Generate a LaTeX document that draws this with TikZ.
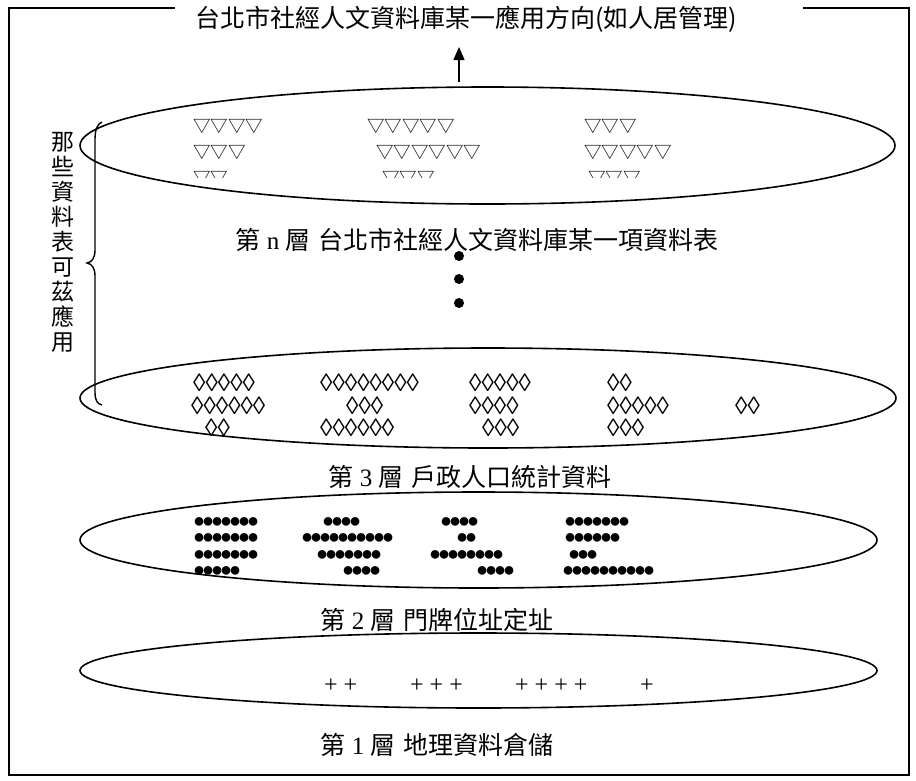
\documentclass[tikz,border=0pt]{standalone}
\usepackage{fontspec}
\setmainfont{Liberation Serif}
\newfontfamily\cjk{Noto Sans CJK TC}
\usetikzlibrary{arrows.meta,shapes.geometric}
\newcommand\blobrow[1]{\foreach \i in {1,...,#1}{●\kern-3.1pt}}
\tikzset{
  layer/.style={draw, ellipse, line width=1.6pt, inner sep=0pt, outer sep=0pt},
  sym/.style={anchor=west, inner sep=0pt},
  tri/.style={sym, font=\cjk\fontsize{17.5}{17.5}\selectfont},
  dia/.style={sym, font=\fontsize{25}{25}\selectfont},
  dotrow/.style={sym, font=\fontsize{20}{20}\selectfont},
  pls/.style={sym, font=\fontsize{24}{24}\selectfont},
  lbl/.style={inner sep=0pt, font=\fontsize{25}{30}\selectfont},
  vdot/.style={circle, fill, inner sep=0pt, minimum size=10pt},
}
\begin{document}
\begin{tikzpicture}[x=1pt,y=-1pt]
\useasboundingbox (0,0) rectangle (916,780);
% frame
\draw[line width=1.8pt] (175,8) -- (9,8) -- (9,775) -- (909,775) -- (909,8) -- (803,8);
% title
\node[lbl, font=\cjk\fontsize{25}{30}\selectfont] (title) at (466,19) {台北市社經人文資料庫某一應用方向(如人居管理)};
% layers
\node[layer, minimum width=815pt, minimum height=117pt] (Ln) at (487.5,145.5) {};
\node[layer, minimum width=816pt, minimum height=100pt] (L3) at (488,398) {};
\node[layer, minimum width=797pt, minimum height=96pt] (L2) at (478.5,540) {};
\node[layer, minimum width=797pt, minimum height=75pt] (L1) at (478.5,670.5) {};
% arrow
\coordinate (ab) at (459,82);
\coordinate (at) at (459,47);
\draw[-{Triangle[length=13pt,width=11pt]}, line width=1.4pt] (ab) -- (at);
% triangles layer n
\node[tri] (t11) at (193,127) {▽▽▽▽};
\node[tri] (t12) at (367,127) {▽▽▽▽▽};
\node[tri] (t13) at (584,127) {▽▽▽};
\node[tri] (t21) at (193,153) {▽▽▽};
\node[tri] (t22) at (376,153) {▽▽▽▽▽▽};
\node[tri] (t23) at (584,153) {▽▽▽▽▽};
\begin{scope}
\clip (0,0) rectangle (916,177);
\node[tri] (t31) at (193,179) {▽▽};
\node[tri] (t32) at (382,179) {▽▽▽};
\node[tri] (t33) at (588,179) {▽▽▽};
\end{scope}
\node[lbl] (tn) at (477,240) {{\cjk 第} n {\cjk 層}\hspace{8pt}{\cjk 台北市社經人文資料庫某一項資料表}};
% vertical dots
\node[vdot] (d1) at (459,256) {};
\node[vdot] (d2) at (459,279) {};
\node[vdot] (d3) at (459,303) {};
% brace
\draw[line width=1.4pt] (102,122) .. controls (97,124) and (95,130) .. (95,140) -- (95,250)
  .. controls (95,258) and (92,262) .. (87,263) .. controls (92,264) and (95,268) .. (95,276)
  -- (95,392) .. controls (95,400) and (97,404) .. (102,405);
\node[inner sep=0pt, align=center, font=\cjk\fontsize{23}{25}\selectfont] (vt) at (63,242) {那\\些\\資\\料\\表\\可\\茲\\應\\用};
% diamonds layer 3
\node[dia] (q11) at (193,383) {◊◊◊◊◊};
\node[dia] (q12) at (320,383) {◊◊◊◊◊◊◊◊};
\node[dia] (q13) at (469,383) {◊◊◊◊◊};
\node[dia] (q14) at (607,383) {◊◊};
\node[dia] (q21) at (191,406) {◊◊◊◊◊◊};
\node[dia] (q22) at (346,406) {◊◊◊};
\node[dia] (q23) at (469,406) {◊◊◊◊};
\node[dia] (q24) at (607,406) {◊◊◊◊◊};
\node[dia] (q25) at (735,406) {◊◊};
\node[dia] (q31) at (205,428) {◊◊};
\node[dia] (q32) at (320,428) {◊◊◊◊◊◊};
\node[dia] (q33) at (482,428) {◊◊◊};
\node[dia] (q34) at (607,428) {◊◊◊};
\node[lbl] (t3) at (470,477) {{\cjk 第} 3 {\cjk 層}\hspace{8pt}{\cjk 戶政人口統計資料}};
% dots layer 2
\node[dotrow] (p11) at (193,523) {\blobrow{7}};
\node[dotrow] (p12) at (322,523) {\blobrow{4}};
\node[dotrow] (p13) at (440,523) {\blobrow{4}};
\node[dotrow] (p14) at (564,523) {\blobrow{7}};
\node[dotrow] (p21) at (193,539) {\blobrow{7}};
\node[dotrow] (p22) at (301,539) {\blobrow{10}};
\node[dotrow] (p23) at (456,539) {\blobrow{2}};
\node[dotrow] (p24) at (564,539) {\blobrow{6}};
\node[dotrow] (p31) at (193,556) {\blobrow{7}};
\node[dotrow] (p32) at (316,556) {\blobrow{7}};
\node[dotrow] (p33) at (429,556) {\blobrow{8}};
\node[dotrow] (p34) at (568,556) {\blobrow{3}};
\node[dotrow] (p41) at (193,572) {\blobrow{5}};
\node[dotrow] (p42) at (342,572) {\blobrow{4}};
\node[dotrow] (p43) at (476,572) {\blobrow{4}};
\node[dotrow] (p44) at (562,572) {\blobrow{10}};
\node[lbl] (t2) at (437,620) {{\cjk 第} 2 {\cjk 層}\hspace{8pt}{\cjk 門牌位址定址}};
% plus layer 1
\node[pls] (s1) at (324,686) {+ +};
\node[pls] (s2) at (410,686) {+ + +};
\node[pls] (s3) at (515,686) {+ + + +};
\node[pls] (s4) at (640,686) {+};
\node[lbl] (t1) at (437,745) {{\cjk 第} 1 {\cjk 層}\hspace{8pt}{\cjk 地理資料倉儲}};
\end{tikzpicture}
\end{document}
